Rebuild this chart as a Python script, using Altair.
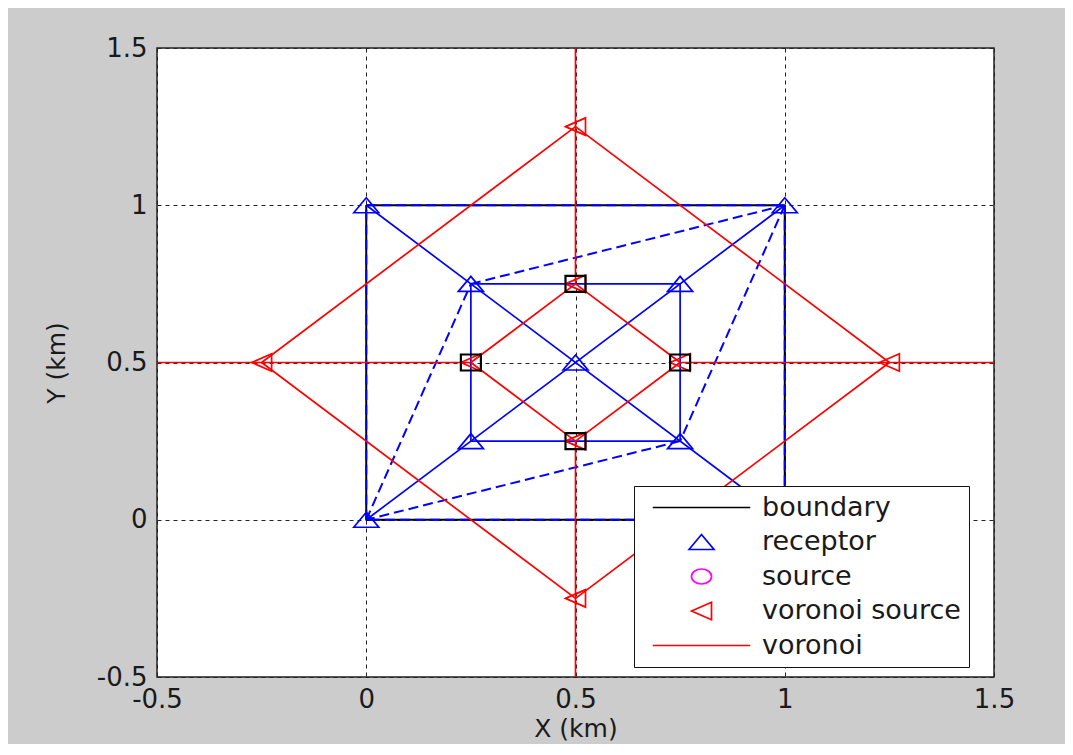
import altair as alt
import pandas as pd

# ---- data ----
rec_x = [0, 0, 1, 1, 0.25, 0.75, 0.25, 0.75, 0.5]
rec_y = [0, 1, 1, 0, 0.25, 0.25, 0.75, 0.75, 0.5]

vs_x = [0.5, 1.25, 0.5, -0.25, 0.5, 0.75, 0.5, 0.25]
vs_y = [1.25, 0.5, -0.25, 0.5, 0.75, 0.5, 0.25, 0.5]

sq_x = [0.5, 0.75, 0.5, 0.25]
sq_y = [0.75, 0.5, 0.25, 0.5]

# boundary square
bnd_x1 = [0, 0, 1, 1]
bnd_y1 = [0, 1, 1, 0]
bnd_x2 = [0, 1, 1, 0]
bnd_y2 = [1, 1, 0, 0]

# solid triangulation edges
bs_x1 = [0, 0, 0.25, 0.75, 0.75, 0.25]
bs_y1 = [1, 0, 0.25, 0.25, 0.75, 0.75]
bs_x2 = [1, 1, 0.75, 0.75, 0.25, 0.25]
bs_y2 = [0, 1, 0.25, 0.75, 0.75, 0.25]

# dashed triangulation edges
bd_x1 = [0, 0, 1, 1, 0, 0.25, 1, 0.75]
bd_y1 = [0, 1, 1, 0, 0, 0.75, 1, 0.25]
bd_x2 = [0, 1, 1, 0, 0.25, 1, 0.75, 0]
bd_y2 = [1, 1, 0, 0, 0.75, 1, 0.25, 0]

# voronoi edges
vo_x1 = [0.5, 0.5, 0.25, 0.75, 0.5, 1.25, 0.5, -0.25, 0.5, 0.75, 0.5, 0.25]
vo_y1 = [0.75, 0.25, 0.5, 0.5, 1.25, 0.5, -0.25, 0.5, 0.75, 0.5, 0.25, 0.5]
vo_x2 = [0.5, 0.5, -0.5, 1.5, 1.25, 0.5, -0.25, 0.5, 0.75, 0.5, 0.25, 0.5]
vo_y2 = [1.5, -0.5, 0.5, 0.5, 0.5, -0.25, 0.5, 1.25, 0.5, 0.25, 0.5, 0.75]

legend_entries = ["boundary", "receptor", "source", "voronoi source", "voronoi"]
legend_colors = ["#000000", "#0000ff", "#ff00ff", "#ff0000", "#ff0000"]
legend_shapes = [
    "M-3.9,0L3.9,0",
    "M-1,0.6L0,-0.6L1,0.6Z",
    "M-0.8,0A0.8,0.6,0,1,1,0.8,0A0.8,0.6,0,1,1,-0.8,0Z",
    "M-0.8,0L0.8,-0.7L0.8,0.7Z",
    "M-3.9,0L3.9,0",
]

tick_vals = [-0.5, 0, 0.5, 1, 1.5]

# ---- tables ----
def seg(x1, y1, x2, y2):
    return pd.DataFrame({"x": x1, "y": y1, "x2": x2, "y2": y2})

pts = pd.DataFrame({
    "x": rec_x + vs_x,
    "y": rec_y + vs_y,
    "entry": ["receptor"] * len(rec_x) + ["voronoi source"] * len(vs_x),
})
sqs = pd.DataFrame({"x": sq_x, "y": sq_y})

xs = alt.Scale(domain=[-0.5, 1.5], nice=False, zero=False)
ys = alt.Scale(domain=[-0.5, 1.5], nice=False, zero=False)

common_axis = dict(
    values=tick_vals, grid=True, gridDash=[4, 4], gridColor="#222222", gridWidth=1,
    ticks=False, tickSize=0, domain=False, labelFlush=False, labelOverlap=False,
    labelExpr="toString(datum.value)", labelFont="DejaVu Sans", labelFontSize=26,
    labelColor="#1a1a1a", titleFont="DejaVu Sans", titleFontSize=25,
    titleFontWeight="normal", titleColor="#1a1a1a",
)
xax = alt.Axis(title="X (km)", labelPadding=9, titlePadding=4, **common_axis)
yax = alt.Axis(title="Y (km)", labelPadding=10, titlePadding=27, **common_axis)


def rules(df, color, width, dash=None):
    kw = dict(color=color, strokeWidth=width)
    if dash:
        kw["strokeDash"] = dash
    return alt.Chart(df).mark_rule(**kw).encode(
        x=alt.X("x:Q", scale=xs, axis=xax),
        y=alt.Y("y:Q", scale=ys, axis=yax),
        x2="x2:Q", y2="y2:Q",
    )

boundary = rules(seg(bnd_x1, bnd_y1, bnd_x2, bnd_y2), "#000000", 2)
blue_solid = rules(seg(bs_x1, bs_y1, bs_x2, bs_y2), "#0000ff", 1.7)
blue_dash = rules(seg(bd_x1, bd_y1, bd_x2, bd_y2), "#0000ff", 2, [10, 5])
red = rules(seg(vo_x1, vo_y1, vo_x2, vo_y2), "#ff0000", 1.7)

points = alt.Chart(pts).mark_point(filled=False, size=625, strokeWidth=1.7, opacity=1).encode(
    x=alt.X("x:Q", scale=xs, axis=xax),
    y=alt.Y("y:Q", scale=ys, axis=yax),
    color=alt.Color(
        "entry:N",
        scale=alt.Scale(domain=legend_entries, range=legend_colors),
        legend=alt.Legend(
            orient="none", legendX=477, legendY=438, title=None,
            fillColor="white", strokeColor="#111111", padding=8,
            rowPadding=6.5, symbolOffset=46, labelOffset=47,
            labelFont="DejaVu Sans", labelFontSize=27, labelColor="#1a1a1a",
            symbolStrokeWidth=1.7, symbolSize=625, labelLimit=500,
        ),
    ),
    shape=alt.Shape("entry:N", scale=alt.Scale(domain=legend_entries, range=legend_shapes)),
)

squares = alt.Chart(sqs).mark_point(
    filled=False, size=400, strokeWidth=2.2, opacity=1, color="#000000",
    shape="M-1,-0.8L1,-0.8L1,0.8L-1,0.8Z",
).encode(
    x=alt.X("x:Q", scale=xs, axis=xax),
    y=alt.Y("y:Q", scale=ys, axis=yax),
)

chart = alt.layer(boundary, blue_solid, blue_dash, red, points, squares).properties(
    width=837, height=629, background="#cccccc",
    padding={"left": 149, "top": 40, "right": 71, "bottom": 67},
    autosize=alt.AutoSizeParams(type="none"),
).configure_view(fill="white", stroke="#222222", strokeWidth=1.5)

chart.save("out.html", embed_options={"renderer": "svg", "actions": False})
